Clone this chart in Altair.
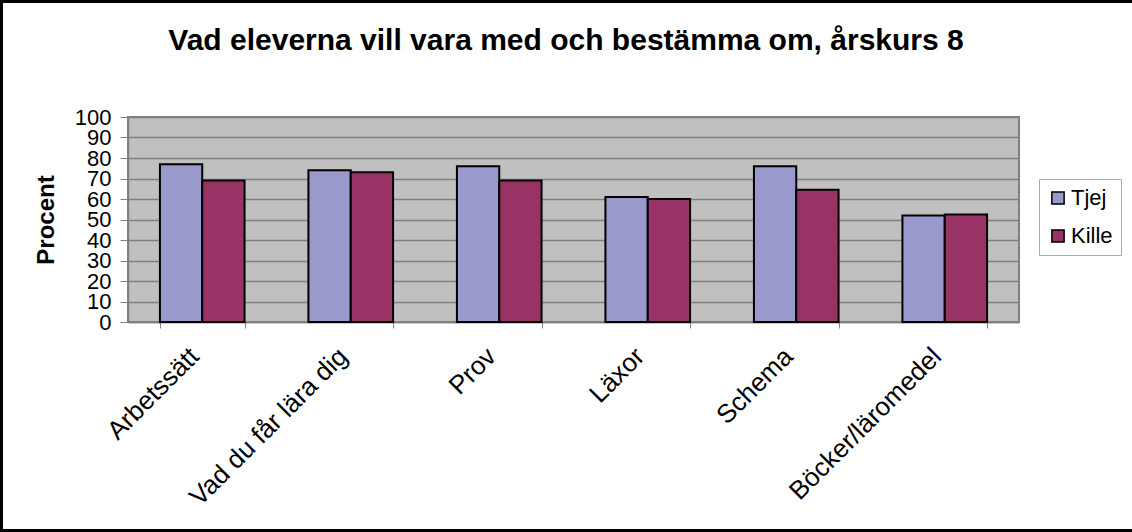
import altair as alt
import pandas as pd

categories = ["Arbetssätt", "Vad du får lära dig", "Prov", "Läxor", "Schema", "Böcker/läromedel"]
series = ["Tjej", "Kille"]
tjej = [77, 74, 76, 61, 76, 52]
kille = [69, 73, 69, 60, 64.5, 52.5]
colors = ["#9999CC", "#993366"]
y_ticks = list(range(0, 101, 10))
title_text = "Vad eleverna vill vara med och bestämma om, årskurs 8"

rows = []
for c, t, k in zip(categories, tjej, kille):
    rows.append({"kategori": c, "serie": "Tjej", "procent": t})
    rows.append({"kategori": c, "serie": "Kille", "procent": k})
df = pd.DataFrame(rows)

FONT = "Liberation Sans"

bars = alt.Chart(df).mark_bar(stroke="black", strokeWidth=2).encode(
    x=alt.X("kategori:N", sort=categories,
            scale=alt.Scale(paddingInner=0.43, paddingOuter=0.215),
            axis=alt.Axis(title=None, labelAngle=-45, labelAlign="right",
                          labelBaseline="middle", labelPadding=24, labelLimit=500,
                          labelOffset=-8,
                          labelFontSize=26, labelFont=FONT, labelColor="black",
                          tickBand="extent", tickSize=6, tickColor="#808080",
                          domainColor="#808080", domainWidth=1.5, grid=False,
                          labelOverlap=False)),
    xOffset=alt.XOffset("serie:N", sort=series),
    y=alt.Y("procent:Q", scale=alt.Scale(domain=[0, 100], nice=False),
            axis=alt.Axis(title="Procent", values=y_ticks, labelFontSize=22,
                          labelFont=FONT, labelColor="black", labelOverlap=False,
                          labelFlush=False, labelPadding=9, tickSize=8,
                          tickColor="#808080", domainColor="#808080", domainWidth=1.5,
                          gridColor="#808080", gridWidth=1.5,
                          titleFont=FONT, titleFontSize=24, titleFontWeight="bold",
                          titleColor="black", titlePadding=16)),
    color=alt.Color("serie:N", sort=series,
                    scale=alt.Scale(domain=series, range=colors),
                    legend=alt.Legend(title=None, orient="none", legendX=911, legendY=62,
                                      symbolType="square", symbolSize=150,
                                      symbolStrokeColor="black", symbolStrokeWidth=1.5,
                                      labelFontSize=22, labelFont=FONT, labelColor="black",
                                      labelOffset=2, rowPadding=16, padding=8,
                                      strokeColor="#AAAAAA", fillColor="white")),
)

title = alt.Chart(alt.Data(values=[{"t": title_text}])).mark_text(
    font=FONT, fontSize=30, fontWeight="bold", color="black",
    align="center", baseline="alphabetic"
).encode(text="t:N", x=alt.value(438), y=alt.value(-67))

border = alt.Chart(alt.Data(values=[{"a": 1}])).mark_rect(
    fillOpacity=0, stroke="black", strokeWidth=3
).encode(
    x=alt.value(-126.5), x2=alt.value(1030),
    y=alt.value(-115.5), y2=alt.value(413.5),
)

chart = alt.layer(bars, title, border).properties(
    width=891, height=205,
    autosize=alt.AutoSizeParams(type="none"),
    padding={"left": 128, "top": 117, "right": 113, "bottom": 210},
    background="white",
).configure_view(fill="#C0C0C0", stroke="#808080", strokeWidth=2)

chart.save("out.html", embed_options={"renderer": "svg", "actions": False})
